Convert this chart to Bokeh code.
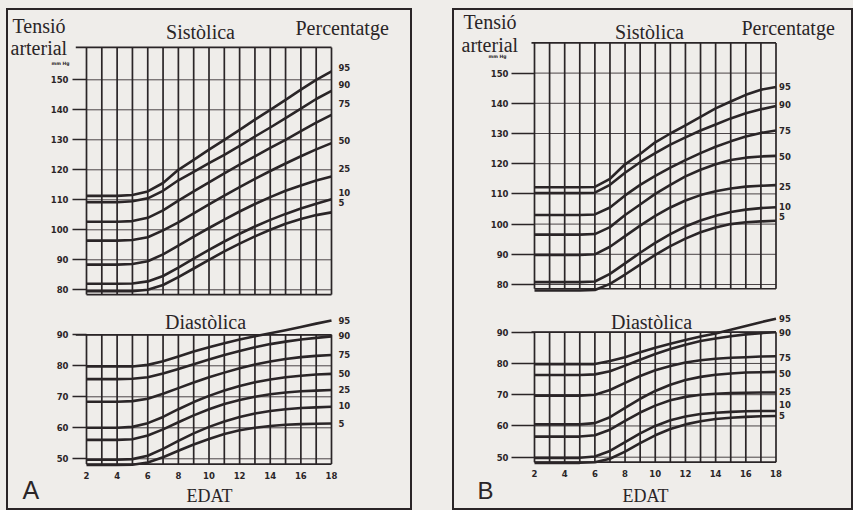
import re
from bokeh.plotting import figure
from bokeh.models import Label, FixedTicker, Range1d, Spacer
from bokeh.layouts import row, column
from bokeh.embed import file_html
from bokeh.resources import INLINE
from bokeh.core.properties import value

# ---------------- data ----------------
ages = list(range(2, 19))
age_ticks = [2, 4, 6, 8, 10, 12, 14, 16, 18]
sys_ticks = [80, 90, 100, 110, 120, 130, 140, 150]
dia_ticks = [50, 60, 70, 80, 90]
pct_labels = ["95", "90", "75", "50", "25", "10", "5"]

# Panel A - systolic
a_sys_95 = [111.3, 111.3, 111.3, 111.6, 112.8, 115.6, 120.0, 123.3, 126.7, 130.0, 133.3, 136.7, 140.0, 143.3, 146.7, 150.0, 152.8]
a_sys_90 = [109.2, 109.2, 109.2, 109.5, 110.5, 113.0, 116.5, 119.3, 122.2, 125.0, 128.0, 131.1, 134.1, 137.2, 140.4, 143.6, 146.3]
a_sys_75 = [102.7, 102.7, 102.7, 102.9, 104.0, 106.5, 109.7, 112.8, 115.8, 118.8, 121.7, 124.5, 127.3, 130.0, 132.9, 135.7, 138.3]
a_sys_50 = [96.4, 96.4, 96.4, 96.6, 97.5, 99.8, 102.5, 105.5, 108.5, 111.4, 114.2, 117.0, 119.6, 122.1, 124.5, 126.8, 128.9]
a_sys_25 = [88.4, 88.4, 88.4, 88.6, 89.5, 91.8, 94.7, 97.7, 100.6, 103.4, 106.1, 108.6, 110.9, 113.0, 114.8, 116.4, 117.8]
a_sys_10 = [82.0, 82.0, 82.0, 82.1, 82.8, 84.6, 87.4, 90.4, 93.3, 96.1, 98.7, 101.1, 103.3, 105.3, 107.1, 108.7, 110.2]
a_sys_5 = [79.5, 79.5, 79.5, 79.5, 80.0, 81.6, 84.2, 87.1, 90.0, 92.8, 95.4, 97.8, 100.0, 102.0, 103.6, 104.9, 105.8]
a_sys_label_y = [154.2, 148.4, 142.2, 129.8, 120.3, 112.5, 109.2]

# Panel A - diastolic
a_dia_95 = [79.8, 79.8, 79.8, 79.8, 80.3, 81.5, 83.0, 84.6, 86.0, 87.3, 88.5, 89.5, 90.5, 91.5, 92.5, 93.6, 94.6]
a_dia_90 = [75.7, 75.7, 75.7, 75.8, 76.3, 77.5, 79.0, 80.5, 82.0, 83.5, 84.8, 86.0, 87.0, 87.8, 88.5, 89.0, 89.5]
a_dia_75 = [68.4, 68.4, 68.4, 68.6, 69.4, 71.0, 72.8, 74.6, 76.3, 77.8, 79.2, 80.4, 81.4, 82.2, 82.8, 83.2, 83.5]
a_dia_50 = [60.0, 60.0, 60.0, 60.3, 61.5, 63.5, 66.0, 68.3, 70.3, 72.0, 73.5, 74.7, 75.6, 76.3, 76.8, 77.2, 77.4]
a_dia_25 = [56.1, 56.1, 56.1, 56.3, 57.5, 59.5, 61.8, 64.0, 66.0, 67.7, 69.0, 70.0, 70.8, 71.4, 71.8, 72.0, 72.2]
a_dia_10 = [49.7, 49.7, 49.7, 49.9, 51.0, 53.2, 55.8, 58.2, 60.3, 62.0, 63.5, 64.6, 65.4, 66.0, 66.4, 66.6, 66.8]
a_dia_5 = [48.0, 48.0, 48.0, 48.1, 48.8, 50.5, 52.6, 54.6, 56.4, 58.0, 59.2, 60.0, 60.6, 61.0, 61.2, 61.3, 61.4]
a_dia_label_y = [94.6, 89.8, 83.6, 77.6, 72.3, 67.1, 61.3]

# Panel B - systolic
b_sys_95 = [112.2, 112.2, 112.2, 112.2, 112.3, 115.0, 119.8, 123.2, 127.1, 130.0, 132.7, 135.5, 138.3, 140.6, 142.8, 144.5, 145.4]
b_sys_90 = [110.3, 110.3, 110.3, 110.3, 110.4, 113.0, 117.0, 120.5, 123.5, 126.3, 128.7, 131.0, 133.0, 135.0, 136.7, 138.0, 139.1]
b_sys_75 = [103.0, 103.0, 103.0, 103.0, 103.2, 105.5, 109.5, 113.0, 116.0, 118.7, 121.2, 123.5, 125.6, 127.4, 129.0, 130.2, 131.0]
b_sys_50 = [96.5, 96.5, 96.5, 96.5, 96.7, 99.0, 103.0, 106.5, 110.0, 113.0, 115.8, 118.0, 119.8, 121.2, 122.0, 122.4, 122.6]
b_sys_25 = [89.8, 89.8, 89.8, 89.8, 90.0, 92.5, 96.0, 99.5, 102.7, 105.5, 107.8, 109.6, 110.9, 111.8, 112.4, 112.7, 112.9]
b_sys_10 = [80.8, 80.8, 80.8, 80.8, 81.0, 83.5, 87.0, 90.5, 93.8, 96.7, 99.2, 101.2, 102.8, 104.0, 104.8, 105.3, 105.6]
b_sys_5 = [78.0, 78.0, 78.0, 78.0, 78.2, 80.2, 83.3, 86.6, 89.8, 92.7, 95.2, 97.3, 98.9, 100.0, 100.6, 100.9, 101.1]
b_sys_label_y = [145.6, 139.6, 131.0, 122.4, 112.5, 105.7, 102.6]

# Panel B - diastolic
b_dia_95 = [79.8, 79.8, 79.8, 79.8, 79.8, 80.8, 82.0, 83.6, 85.0, 86.3, 87.5, 88.6, 89.6, 90.8, 92.0, 93.2, 94.3]
b_dia_90 = [76.3, 76.3, 76.3, 76.3, 76.5, 77.5, 79.3, 81.2, 83.0, 84.6, 86.0, 87.2, 88.0, 88.7, 89.3, 89.7, 90.0]
b_dia_75 = [69.7, 69.7, 69.7, 69.7, 70.0, 71.5, 73.8, 76.0, 77.8, 79.2, 80.3, 81.0, 81.5, 81.8, 82.0, 82.2, 82.3]
b_dia_50 = [60.5, 60.5, 60.5, 60.5, 60.9, 62.8, 65.8, 68.7, 71.2, 73.2, 74.7, 75.7, 76.4, 76.8, 77.1, 77.2, 77.3]
b_dia_25 = [56.6, 56.6, 56.6, 56.6, 57.0, 58.8, 61.6, 64.3, 66.5, 68.2, 69.3, 70.0, 70.3, 70.5, 70.6, 70.7, 70.7]
b_dia_10 = [49.8, 49.8, 49.8, 49.8, 50.2, 52.0, 54.8, 57.6, 60.0, 61.8, 63.0, 63.8, 64.2, 64.5, 64.7, 64.8, 64.8]
b_dia_5 = [48.2, 48.2, 48.2, 48.2, 48.4, 49.5, 51.8, 54.5, 57.0, 59.0, 60.5, 61.5, 62.2, 62.6, 62.9, 63.1, 63.2]
b_dia_label_y = [94.3, 90.0, 82.0, 76.9, 70.9, 66.9, 63.2]

# ---------------- style ----------------
INK = "#2a2527"
GRIDC = "#4a4446"
BG = "#efedea"
SERIF = "Liberation Serif"
SANS = "DejaVu Sans"


class Geo:
    """screen geometry of one chart canvas (page pixels); frame = whole canvas"""
    def __init__(self, left, top, width, height, x2, pxyr, v_ref, v_ref_px, pxu):
        self.left, self.top, self.width, self.height = left, top, width, height
        self.x2, self.pxyr = x2, pxyr
        self.v_ref, self.v_ref_px, self.pxu = v_ref, v_ref_px, pxu

    def ax(self, sx):
        return 2 + (sx - self.x2) / self.pxyr

    def ay(self, sy):
        return self.v_ref + (self.v_ref_px - sy) / self.pxu


def make_fig(g, xaxis):
    p = figure(width=g.width, height=g.height,
               x_range=Range1d(g.ax(g.left), g.ax(g.left + g.width)),
               y_range=Range1d(g.ay(g.top + g.height), g.ay(g.top)),
               output_backend="svg", toolbar_location=None,
               x_axis_location=("below" if xaxis else None),
               min_border_left=0, min_border_right=0,
               min_border_top=0, min_border_bottom=0)
    p.background_fill_color = BG
    p.border_fill_color = BG
    p.outline_line_color = None
    p.grid.visible = False
    return p


def style_yaxis(p, ticks, tick_out, standoff):
    ax = p.yaxis[0]
    ax.fixed_location = 2
    ax.ticker = FixedTicker(ticks=ticks)
    ax.axis_line_color = None
    ax.major_tick_in = 0
    ax.major_tick_out = tick_out
    ax.minor_tick_out = 0
    ax.minor_tick_in = 0
    ax.major_tick_line_color = INK
    ax.major_tick_line_width = 1.3
    ax.major_label_standoff = standoff
    ax.major_label_text_font = SANS
    ax.major_label_text_font_style = "bold"
    ax.major_label_text_font_size = "8.5px"
    ax.major_label_text_color = INK


def style_xaxis(p, loc):
    ax = p.xaxis[0]
    ax.fixed_location = loc
    ax.ticker = FixedTicker(ticks=age_ticks)
    ax.axis_line_color = None
    ax.major_tick_in = 0
    ax.major_tick_out = 0
    ax.minor_tick_out = 0
    ax.minor_tick_in = 0
    ax.major_label_standoff = 8
    ax.major_label_text_font = SANS
    ax.major_label_text_font_style = "bold"
    ax.major_label_text_font_size = "8.5px"
    ax.major_label_text_color = INK


def draw_chart(p, curves, label_y, label_x, ticks, grid_top, grid_bottom, top_start):
    n = len(ages)
    p.segment(x0=[2] * len(ticks), y0=ticks, x1=[18] * len(ticks), y1=ticks,
              line_color=GRIDC, line_width=1.0)
    p.segment(x0=ages, y0=[grid_bottom] * n, x1=ages, y1=[grid_top] * n,
              line_color=INK, line_width=1.7)
    p.segment(x0=[top_start, 2], y0=[grid_top, grid_bottom], x1=[18, 18], y1=[grid_top, grid_bottom],
              line_color=INK, line_width=1.7)
    for c in curves:
        p.line(ages, c, line_color=INK, line_width=2.6, line_join="round")
    p.text(x=[label_x] * len(pct_labels), y=label_y, text=pct_labels,
           text_font=value(SANS), text_font_style="bold", text_font_size="8.5px",
           text_color=INK, text_baseline="middle", text_align="left")


def add_text(p, g, sx, sy, txt, size_px, font=SERIF, align="left", style="normal"):
    # sy is the wanted visual baseline; Bokeh's label anchor sits ~0.3em below it
    anchor = sy - 0.3 * size_px
    p.add_layout(Label(x=g.ax(sx), y=g.ay(anchor), x_units="data", y_units="data",
                       text=txt, text_font=font, text_font_size="%gpx" % size_px,
                       text_font_style=style, text_align=align,
                       text_baseline="alphabetic", text_color=INK))


def build_panel(cl, cw, x2, x18, sys_geo, dia_geo, sys_curves, dia_curves,
                sys_lab, dia_lab, lab_x, tick_out, standoff, sys_top, sys_bottom, dia_bottom,
                top_start, texts, letter, letter_size):
    pxyr = (x18 - x2) / 16.0
    gs = Geo(cl, 10, cw, 290, x2, pxyr, 80, sys_geo[0], sys_geo[1])
    gd = Geo(cl, 300, cw, 208, x2, pxyr, 90, dia_geo[0], dia_geo[1])

    ps = make_fig(gs, False)
    style_yaxis(ps, sys_ticks, tick_out, standoff)
    draw_chart(ps, sys_curves, sys_lab, lab_x, sys_ticks, sys_top, sys_bottom, top_start)

    pdia = make_fig(gd, True)
    style_yaxis(pdia, dia_ticks, tick_out, standoff)
    style_xaxis(pdia, dia_bottom)
    draw_chart(pdia, dia_curves, dia_lab, lab_x, dia_ticks, 90, dia_bottom, top_start)

    add_text(ps, gs, texts["tensio"][0], texts["tensio"][1], "Tensió", 20)
    add_text(ps, gs, texts["arterial"][0], texts["arterial"][1], "arterial", 20)
    add_text(ps, gs, texts["mmhg"][0], texts["mmhg"][1], "mm Hg", 4.5, font=SANS, align="center", style="bold")
    add_text(ps, gs, texts["sist"][0], texts["sist"][1], "Sistòlica", 20, align="center")
    add_text(ps, gs, texts["perc"][0], texts["perc"][1], "Percentatge", 20)
    add_text(pdia, gd, texts["diast"][0], texts["diast"][1], "Diastòlica", 20, align="center")
    add_text(pdia, gd, texts["edat"][0], texts["edat"][1], "EDAT", 18, align="center")
    add_text(pdia, gd, texts["letter"][0], texts["letter"][1], letter, letter_size, font="Liberation Sans")

    return column(ps, pdia, spacing=0,
                  styles={"border": "2px solid " + INK, "background-color": BG})


panel_a = build_panel(
    cl=8, cw=402, x2=86, x18=331,
    sys_geo=(289.3, 3.0), dia_geo=(334.3, 3.1),
    sys_curves=[a_sys_95, a_sys_90, a_sys_75, a_sys_50, a_sys_25, a_sys_10, a_sys_5],
    dia_curves=[a_dia_95, a_dia_90, a_dia_75, a_dia_50, a_dia_25, a_dia_10, a_dia_5],
    sys_lab=a_sys_label_y, dia_lab=a_dia_label_y, lab_x=18.45, tick_out=14, standoff=4,
    sys_top=160.8, sys_bottom=78.4, dia_bottom=48.3, top_start=1.3,
    texts={"tensio": (12, 31), "arterial": (10, 53.5), "mmhg": (60, 64), "sist": (200, 37),
           "perc": (295, 33), "diast": (205, 327), "edat": (209, 501), "letter": (22, 497)},
    letter="A", letter_size=25)

panel_b = build_panel(
    cl=454, cw=397, x2=534.0, x18=775.5,
    sys_geo=(284.0, 3.02), dia_geo=(331.7, 3.125),
    sys_curves=[b_sys_95, b_sys_90, b_sys_75, b_sys_50, b_sys_25, b_sys_10, b_sys_5],
    dia_curves=[b_dia_95, b_dia_90, b_dia_75, b_dia_50, b_dia_25, b_dia_10, b_dia_5],
    sys_lab=b_sys_label_y, dia_lab=b_dia_label_y, lab_x=18.2, tick_out=23, standoff=3,
    sys_top=160.0, sys_bottom=78.6, dia_bottom=48.4, top_start=1.8,
    texts={"tensio": (463, 27), "arterial": (461, 50), "mmhg": (497, 57), "sist": (649, 37),
           "perc": (741, 33), "diast": (651, 327), "edat": (645, 501), "letter": (477, 497)},
    letter="B", letter_size=24)

layout = column(
    Spacer(height=8, width=853),
    row(Spacer(width=6, height=502), panel_a, Spacer(width=40, height=502), panel_b, spacing=0),
    spacing=0, styles={"background-color": BG})

html = file_html(layout, INLINE, title="Tensió arterial")
html = re.sub(r"<body([^>]*)>", r'<body\1 style="background-color:%s;">' % BG, html, count=1)
open("out.html", "w").write(html)
